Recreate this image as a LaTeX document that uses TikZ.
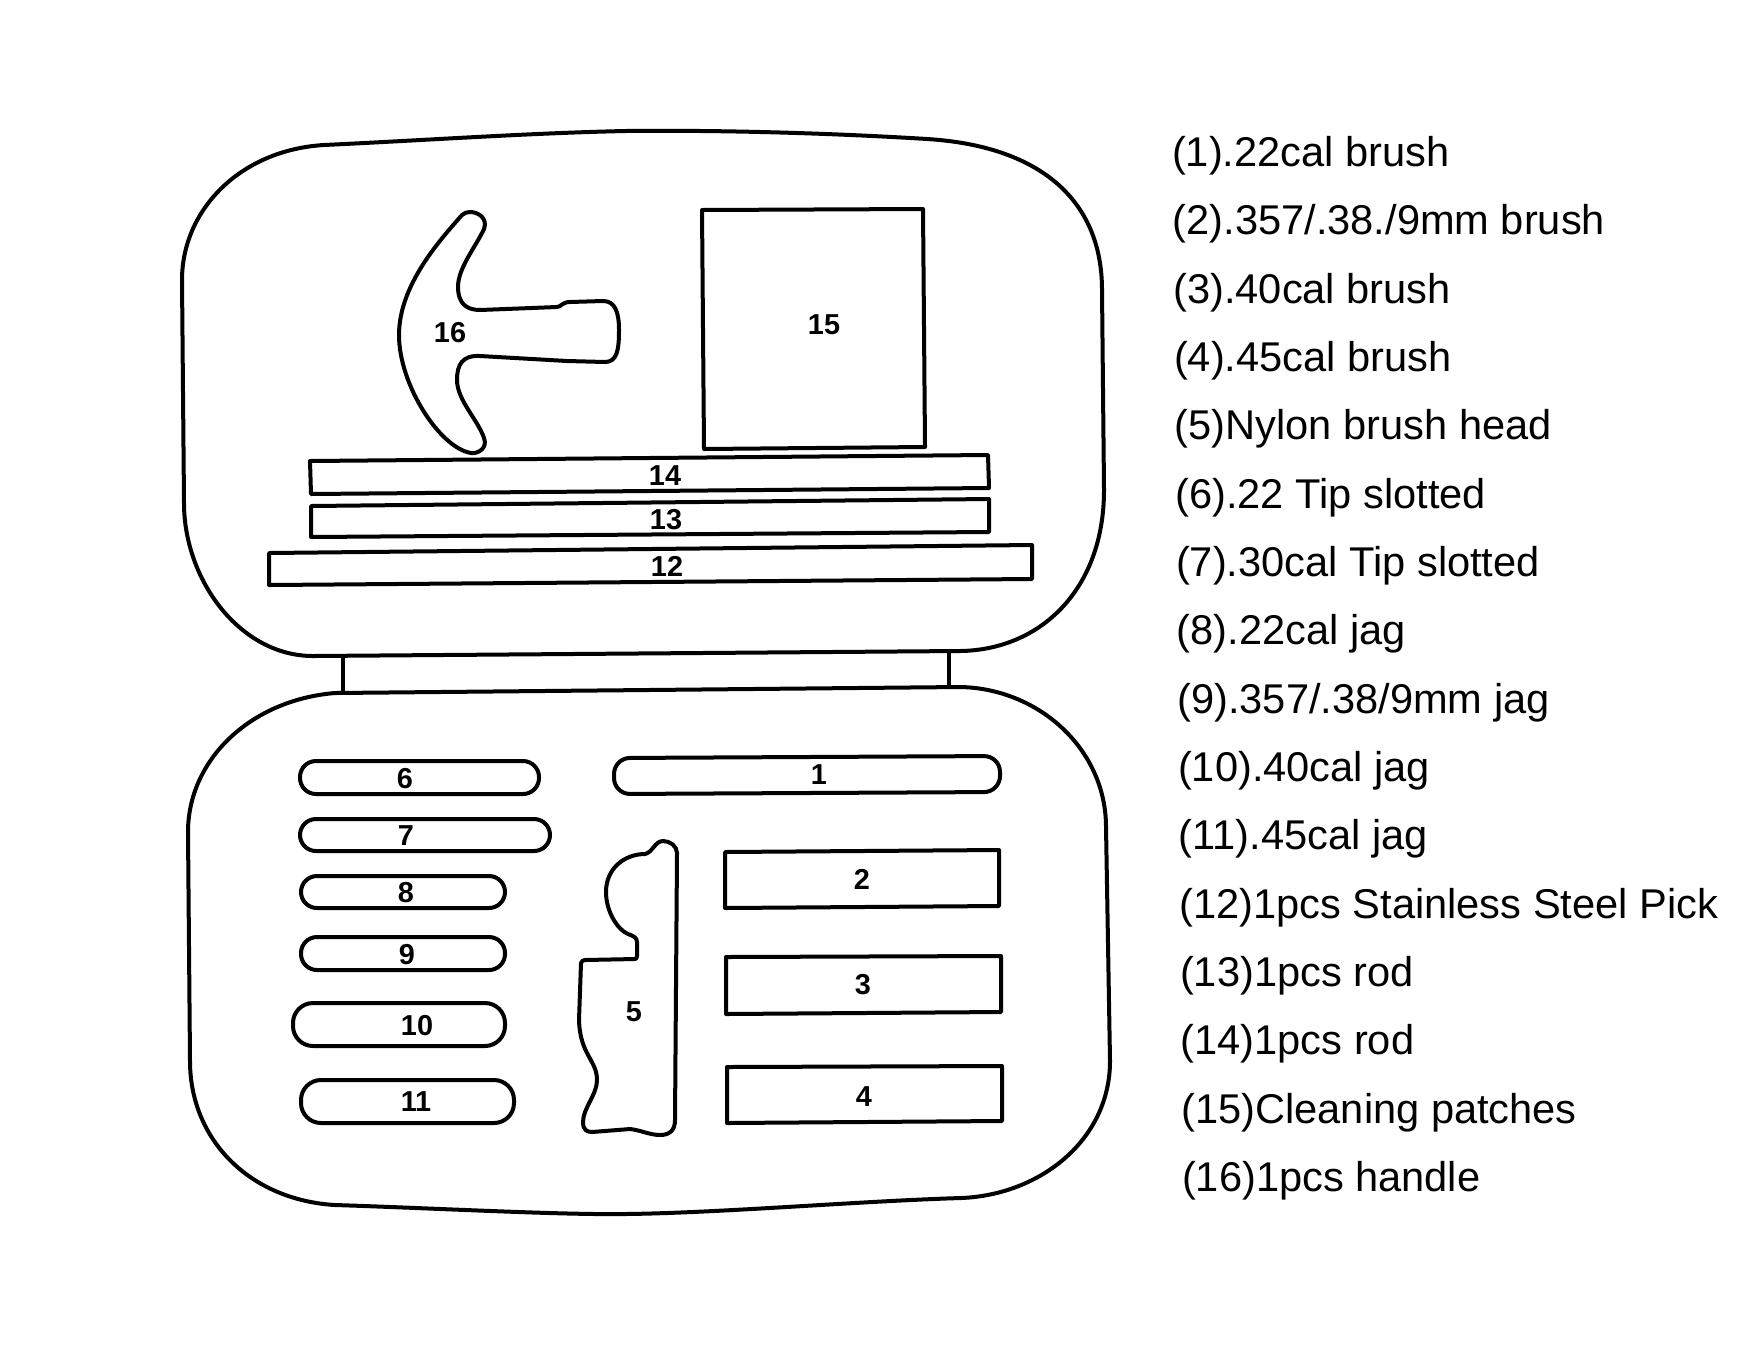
\documentclass[tikz,border=0pt]{standalone}
\usepackage{fontspec}
\setmainfont{Liberation Sans}
\usetikzlibrary{positioning}

\begin{document}
\begin{tikzpicture}[x=0.01cm, y=-0.01cm, line join=round,
    outline/.style={draw, line width=0.04cm},
    slotlabel/.style={font=\bfseries\fontsize{8.2}{10}\selectfont, inner sep=0pt},
    itemtext/.style={font=\fontsize{11.83}{14}\selectfont, inner sep=0pt, outer sep=0pt, text height=0.3cm, text depth=0.1cm, anchor=north west},
    nextitem/.style={below=0.283cm of #1.south west, anchor=north west, xshift=0.0067cm}]
    \useasboundingbox (0,0) rectangle (1752,1360);

    % Case halves and hinge
    \path[outline] (324,145) .. controls (430,140) and (530,133) .. (626,131) .. controls (720,130) and (830,133) .. (927,139)
        .. controls (1040,146) and (1102,200) .. (1102,290) -- (1104,490)
        .. controls (1104,590) and (1040,650) .. (960,651) -- (313,656)
        .. controls (240,656) and (184,580) .. (184,503) -- (182,280)
        .. controls (182,210) and (240,150) .. (324,145) -- cycle;
    \path[outline] (335,693) -- (961,687) .. controls (1040,689) and (1106,750) .. (1106,827) -- (1110,1061)
        .. controls (1110,1140) and (1040,1195) .. (961,1198)
        .. controls (860,1201) and (720,1213) .. (625,1214)
        .. controls (560,1215) and (430,1208) .. (335,1205)
        .. controls (250,1200) and (190,1140) .. (190,1061) -- (188,832)
        .. controls (188,760) and (250,700) .. (335,693) -- cycle;
    \path[outline] (343,656) -- (343,693);
    \path[outline] (949,651) -- (949,687);

    % Upper half
    \path[outline] (470,212) .. controls (478,212) and (488,218) .. (484,229)
        .. controls (475,248) and (458,268) .. (458,287)
        .. controls (458,303) and (466,310) .. (480,310) -- (557,307)
        .. controls (561,307) and (562,302) .. (570,302) -- (603,301)
        .. controls (615,301) and (619,312) .. (619,330)
        .. controls (619,350) and (617,362) .. (605,362) -- (567,361) -- (480,356)
        .. controls (462,355) and (457,365) .. (457,380)
        .. controls (457,400) and (478,420) .. (484,438)
        .. controls (488,448) and (478,454) .. (471,453)
        .. controls (440,448) and (399,385) .. (399,335)
        .. controls (399,285) and (440,240) .. (462,215)
        .. controls (464,213) and (467,212) .. (470,212) -- cycle;
    \node (num16) [slotlabel] at (450,333) {16};
    \path[outline] (702,210) -- (923,209) -- (925,447) -- (704,449) -- cycle;
    \node (num15) [slotlabel] at (824,325) {15};
    \path[outline] (310,461) -- (988,455) -- (989,488) -- (311,494) -- cycle;
    \node (num14) [slotlabel] at (665,476) {14};
    \path[outline] (311,506) -- (989,499) -- (989,532) -- (311,537) -- cycle;
    \node (num13) [slotlabel] at (666,520) {13};
    \path[outline] (269,553) -- (1032,545) -- (1032,579) -- (269,585) -- cycle;
    \node (num12) [slotlabel] at (667,566) {12};

    % Lower half, left column
    \path[outline, rounded corners=0.16cm] (300,761) rectangle (539,794);
    \node (num6) [slotlabel] at (405,779) {6};
    \path[outline, rounded corners=0.16cm] (300,819) rectangle (550,851);
    \node (num7) [slotlabel] at (406,836) {7};
    \path[outline, rounded corners=0.16cm] (301,876) rectangle (505,908);
    \node (num8) [slotlabel] at (406,893) {8};
    \path[outline, rounded corners=0.16cm] (301,937) rectangle (505,970);
    \node (num9) [slotlabel] at (407,955) {9};
    \path[outline, rounded corners=0.2cm] (293,1003) rectangle (505,1046);
    \node (num10) [slotlabel] at (417,1026) {10};
    \path[outline, rounded corners=0.2cm] (301,1080) rectangle (514,1123);
    \node (num11) [slotlabel] at (416,1102) {11};

    % Lower half, brush head
    \path[outline] (677,853) .. controls (677,846) and (670,841) .. (663,841)
        .. controls (655,841) and (653,852) .. (645,854)
        .. controls (625,854) and (606,868) .. (606,892)
        .. controls (606,912) and (618,930) .. (628,934)
        .. controls (634,936) and (637,938) .. (637,942) -- (637,956)
        .. controls (637,958) and (636,959) .. (635,959) -- (585,960)
        .. controls (583,960) and (582,961) .. (581,963) -- (579,1020)
        .. controls (580,1055) and (597,1060) .. (597,1080)
        .. controls (597,1095) and (583,1108) .. (583,1122)
        .. controls (583,1130) and (587,1132) .. (592,1132) -- (630,1129)
        .. controls (640,1130) and (650,1135) .. (660,1135)
        .. controls (670,1135) and (675,1130) .. (675,1120) -- cycle;
    \node (num5) [slotlabel] at (634,1012) {5};

    % Lower half, right column
    \path[outline, rounded corners=0.16cm] (614,758) -- (1000,756) -- (1000,792) -- (614,794) -- cycle;
    \node (num1) [slotlabel] at (819,775) {1};
    \path[outline] (725,852) -- (999,850) -- (999,906) -- (725,908) -- cycle;
    \node (num2) [slotlabel] at (862,879) {2};
    \path[outline] (726,957) -- (1001,956) -- (1001,1012) -- (726,1014) -- cycle;
    \node (num3) [slotlabel] at (863,985) {3};
    \path[outline] (727,1067) -- (1002,1066) -- (1002,1121) -- (727,1123) -- cycle;
    \node (num4) [slotlabel] at (864,1097) {4};

    % Parts list
    \node (item1) [itemtext] at (1172,136.5) {(1).22cal brush};
    \node (item2) [itemtext, nextitem=item1] {(2).357/.38./9mm brush};
    \node (item3) [itemtext, nextitem=item2] {(3).40cal brush};
    \node (item4) [itemtext, nextitem=item3] {(4).45cal brush};
    \node (item5) [itemtext, nextitem=item4] {(5)Nylon brush head};
    \node (item6) [itemtext, nextitem=item5] {(6).22 Tip slotted};
    \node (item7) [itemtext, nextitem=item6] {(7).30cal Tip slotted};
    \node (item8) [itemtext, nextitem=item7] {(8).22cal jag};
    \node (item9) [itemtext, nextitem=item8] {(9).357/.38/9mm jag};
    \node (item10) [itemtext, nextitem=item9] {(10).40cal jag};
    \node (item11) [itemtext, nextitem=item10] {(11).45cal jag};
    \node (item12) [itemtext, nextitem=item11] {(12)1pcs Stainless Steel Pick};
    \node (item13) [itemtext, nextitem=item12] {(13)1pcs rod};
    \node (item14) [itemtext, nextitem=item13] {(14)1pcs rod};
    \node (item15) [itemtext, nextitem=item14] {(15)Cleaning patches};
    \node (item16) [itemtext, nextitem=item15] {(16)1pcs handle};
\end{tikzpicture}
\end{document}
